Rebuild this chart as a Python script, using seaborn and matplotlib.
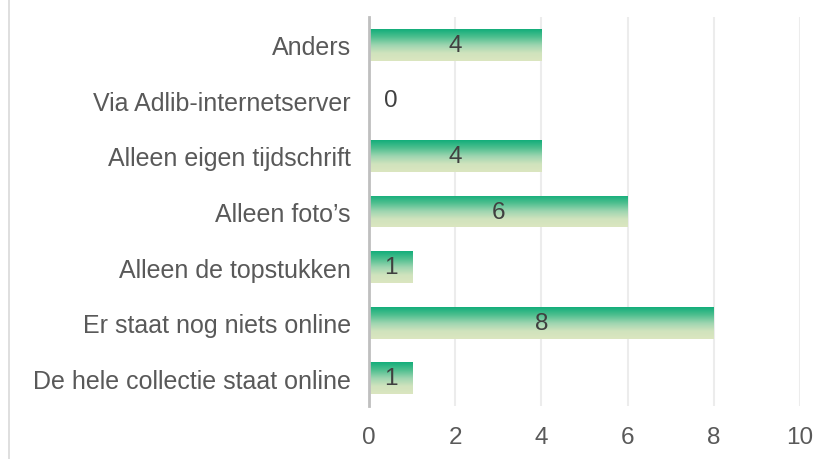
import matplotlib
matplotlib.use("Agg")
import matplotlib.pyplot as plt
import seaborn as sns
import numpy as np
import pandas as pd
from matplotlib.colors import LinearSegmentedColormap
from matplotlib.lines import Line2D

categories = ["Anders", "Via Adlib-internetserver", "Alleen eigen tijdschrift",
              "Alleen foto’s", "Alleen de topstukken", "Er staat nog niets online",
              "De hele collectie staat online"]
values = [4, 0, 4, 6, 1, 8, 1]
xticks = [0, 2, 4, 6, 8, 10]

df = pd.DataFrame({"cat": categories, "val": values})

sns.set_theme(style="white")
plt.rcParams["font.family"] = ["Liberation Sans", "DejaVu Sans"]

FS = 17.5

fig = plt.figure(figsize=(8.32, 4.6), dpi=100)
ax = fig.add_axes([0.4435, 0.115, 0.518, 0.846])

sns.barplot(data=df, x="val", y="cat", ax=ax, orient="h", width=0.57,
            color="#19b07d", edgecolor="none", linewidth=0)

cmap = LinearSegmentedColormap.from_list(
    "g", ["#12ad7a", "#4fbf8f", "#9dd5b0", "#d0e3bd", "#dbe6c0"])
grad = np.linspace(0, 1, 256).reshape(-1, 1)
for p in list(ax.patches):
    x0, y0 = p.get_x(), p.get_y()
    w, h = p.get_width(), p.get_height()
    if w <= 0:
        continue
    im = ax.imshow(grad, cmap=cmap, aspect="auto",
                   extent=[x0, x0 + w, y0 + h, y0], zorder=2,
                   interpolation="bicubic")
    im.set_clip_path(p)
    p.set_facecolor("none")

ax.set_xlim(0, 10)
ax.set_ylim(6.5, -0.5)
ax.set_xticks(xticks)
ax.set_xlabel("")
ax.set_ylabel("")
ax.grid(axis="x", color="#ececec", linewidth=1.5, zorder=0)
ax.set_axisbelow(True)
for s in ["top", "right", "bottom"]:
    ax.spines[s].set_visible(False)
ax.spines["left"].set_color("#bfbfbf")
ax.spines["left"].set_linewidth(2)
ax.spines["left"].set_zorder(5)
ax.tick_params(axis="y", length=0, pad=13, labelsize=18, labelcolor="#595959")
ax.tick_params(axis="x", length=0, pad=14, labelsize=FS, labelcolor="#595959")

for i, v in enumerate(values):
    if v == 0:
        ax.annotate(str(v), (v, i), xytext=(16, 0), textcoords="offset points",
                    ha="center", va="center", fontsize=FS, color="#404040")
    else:
        ax.text(v / 2, i, str(v), ha="center", va="center", fontsize=FS,
                color="#404040", zorder=4)

fig.add_artist(Line2D([8.5 / 832, 8.5 / 832], [0, 1], transform=fig.transFigure,
                      color="#d9d9d9", linewidth=1.2))

fig.savefig("out.png", dpi=100)
